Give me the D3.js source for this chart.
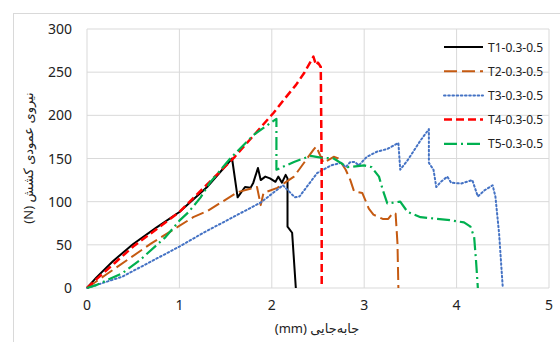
<!DOCTYPE html>
<html>
<head>
<meta charset="utf-8">
<script src="https://cdn.jsdelivr.net/npm/d3@7"></script>
<style>
  body { margin: 0; background: #fff; }
  svg { display: block; font-family: "Noto Sans", "DejaVu Sans", sans-serif; }
</style>
</head>
<body>
<svg id="chart" width="560" height="342"></svg>
<script>
const xTicks = [0, 1, 2, 3, 4, 5];
const yTicks = [0, 50, 100, 150, 200, 250, 300];
const seriesNames = ["T1-0.3-0.5", "T2-0.3-0.5", "T3-0.3-0.5", "T4-0.3-0.5", "T5-0.3-0.5"];

// displacement (mm), force (N)
const t1 = [[0,0],[0.1,12],[0.28,31],[0.5,51],[0.75,70],[1.0,88],[1.3,117],[1.57,150],[1.63,105],[1.71,117],[1.77,116],[1.8,122],[1.85,139],[1.88,125],[1.93,129],[1.98,127],[2.04,123],[2.07,129],[2.11,122],[2.15,131],[2.17,127],[2.17,71],[2.22,64],[2.26,0]];
const t2 = [[0,0],[0.2,15],[0.7,52],[1.15,82],[1.3,89],[1.63,111],[1.84,117],[1.88,96],[1.91,110],[2.06,116],[2.24,129],[2.45,160],[2.48,164],[2.56,145],[2.67,152],[2.72,150],[2.8,137],[2.85,125],[2.89,112],[2.98,110],[3.05,92],[3.1,85],[3.2,80],[3.26,80],[3.31,87],[3.34,86],[3.36,52],[3.37,0]];
const t3 = [[0,0],[0.38,13],[1.0,48],[1.26,64],[1.88,99],[2.12,119],[2.25,105],[2.3,106],[2.49,133],[2.64,142],[2.75,145],[2.8,140],[2.85,146],[2.9,146],[2.94,142],[3.03,152],[3.14,158],[3.25,161],[3.37,168],[3.39,137],[3.47,148],[3.61,171],[3.7,184],[3.7,145],[3.75,137],[3.78,117],[3.83,123],[3.9,129],[3.94,122],[4.05,121],[4.17,125],[4.23,106],[4.3,113],[4.39,119],[4.42,106],[4.46,63],[4.5,0]];
const t4 = [[0,0],[0.1,10],[0.3,29],[0.5,48],[1.0,88],[1.6,152],[2.02,203],[2.13,218],[2.26,235],[2.35,249],[2.45,268],[2.48,258],[2.5,261],[2.53,256],[2.54,130],[2.54,0]];
const t5 = [[0,0],[0.09,3],[0.38,17],[0.57,32],[0.85,59],[1.0,78],[1.1,88],[1.23,105],[1.33,122],[1.55,150],[1.8,177],[2.05,196],[2.05,137],[2.24,146],[2.42,153],[2.53,151],[2.67,150],[2.82,140],[3.0,142],[3.08,140],[3.16,129],[3.2,114],[3.25,98],[3.39,100],[3.47,88],[3.61,82],[3.9,79],[4.08,76],[4.15,71],[4.19,59],[4.21,32],[4.23,0]];
const seriesData = [t1, t2, t3, t4, t5];

const colors = ["#000000", "#C55A11", "#4472C4", "#FF0000", "#00B050"];
const dashes = [null, "13,5", "1.6,2.6", "8,4", "13,4,2,4"];
const widths = [2, 2, 2, 2.5, 2.2];

const svg = d3.select("#chart");
const margin = { left: 87, right: 12, top: 29, bottom: 54 };
const width = 560 - margin.left - margin.right;
const height = 342 - margin.top - margin.bottom;

svg.append("rect")
  .attr("x", 13.5).attr("y", 13.5)
  .attr("width", 560).attr("height", 340)
  .attr("fill", "none").attr("stroke", "#d9d9d9");

const g = svg.append("g").attr("transform", `translate(${margin.left},${margin.top})`);

const x = d3.scaleLinear().domain([0, 5]).range([0, width + 1]);
const y = d3.scaleLinear().domain([0, 300]).range([height, 0]);

// grid
g.selectAll(".vgrid").data(xTicks).enter().append("line")
  .attr("x1", d => x(d)).attr("x2", d => x(d))
  .attr("y1", 0).attr("y2", height)
  .attr("stroke", "#d9d9d9").attr("stroke-width", 1);
g.selectAll(".hgrid").data(yTicks).enter().append("line")
  .attr("x1", 0).attr("x2", x(5))
  .attr("y1", d => y(d)).attr("y2", d => y(d))
  .attr("stroke", "#d9d9d9").attr("stroke-width", 1);

// tick labels
g.selectAll(".ylab").data(yTicks).enter().append("text")
  .attr("x", -15).attr("y", d => y(d) + 5)
  .attr("text-anchor", "end")
  .attr("font-size", 14).attr("fill", "#222")
  .text(d => d);
g.selectAll(".xlab").data(xTicks).enter().append("text")
  .attr("x", d => x(d)).attr("y", height + 22)
  .attr("text-anchor", "middle")
  .attr("font-size", 14).attr("fill", "#222")
  .text(d => d);

// lines
const line = d3.line().x(d => x(d[0])).y(d => y(d[1]));
seriesData.forEach((data, i) => {
  g.append("path")
    .datum(data)
    .attr("d", line)
    .attr("fill", "none")
    .attr("stroke", colors[i])
    .attr("stroke-width", widths[i])
    .attr("stroke-dasharray", dashes[i])
    .attr("stroke-linecap", i === 2 ? "round" : "butt")
    .attr("stroke-linejoin", "round");
});

// legend
const legend = svg.append("g").attr("transform", "translate(444,47)");
seriesNames.forEach((name, i) => {
  const row = legend.append("g").attr("transform", `translate(0,${i * 24.2})`);
  row.append("line")
    .attr("x1", 0).attr("x2", 39).attr("y1", 0).attr("y2", 0)
    .attr("stroke", colors[i])
    .attr("stroke-width", widths[i])
    .attr("stroke-dasharray", dashes[i])
    .attr("stroke-linecap", i === 2 ? "round" : "butt");
  row.append("text")
    .attr("x", 44).attr("y", 4.5)
    .attr("font-size", 12).attr("fill", "#222")
    .text(name);
});

// axis titles
svg.append("text")
  .attr("x", 317).attr("y", 333)
  .attr("text-anchor", "middle")
  .attr("direction", "rtl")
  .attr("font-size", 13).attr("fill", "#222")
  .text("جابه‌جایی (mm)");

svg.append("text")
  .attr("transform", "translate(33,158) rotate(-90)")
  .attr("text-anchor", "middle")
  .attr("direction", "rtl")
  .attr("font-size", 13).attr("fill", "#222")
  .text("نیروی عمودی کشش (N)");
</script>
</body>
</html>
